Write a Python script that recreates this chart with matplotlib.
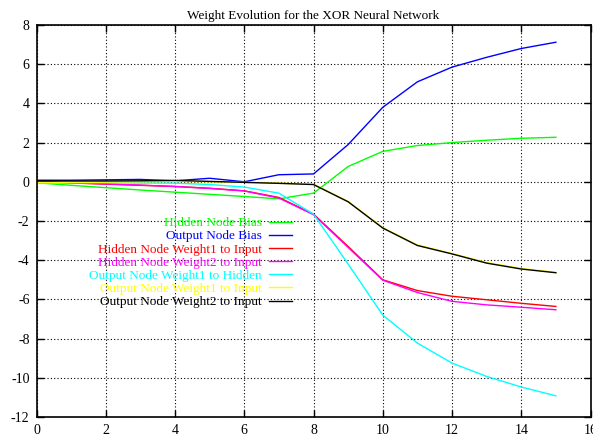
"""Weight evolution of the XOR network, one line per weight."""

import matplotlib
matplotlib.use('Agg')
import matplotlib.pyplot as plt

plt.rcParams['font.family'] = 'Liberation Serif'
plt.rcParams['axes.unicode_minus'] = False

epochs = list(range(16))

hidden_bias = [-0.05, -0.18, -0.3, -0.42, -0.53, -0.64, -0.75, -0.87, -0.58,
               0.78, 1.55, 1.85, 2.0, 2.12, 2.22, 2.27]
output_bias = [0.08, 0.08, 0.1, 0.12, 0.05, 0.18, 0.0, 0.36, 0.4,
               1.9, 3.8, 5.1, 5.85, 6.35, 6.8, 7.12]
hidden_w1 = [0.0, -0.06, -0.12, -0.18, -0.24, -0.33, -0.46, -0.8, -1.65,
             -3.3, -5.0, -5.55, -5.84, -6.02, -6.2, -6.36]
hidden_w2 = [0.02, -0.05, -0.11, -0.17, -0.24, -0.34, -0.47, -0.83, -1.68,
             -3.35, -5.02, -5.65, -6.1, -6.28, -6.4, -6.53]
output_w1_hidden = [-0.05, -0.04, -0.05, -0.06, -0.07, -0.14, -0.27, -0.58, -1.65,
                    -4.2, -6.8, -8.23, -9.25, -9.93, -10.47, -10.92]
output_w1_input = [-0.05, -0.04, -0.02, 0.0, 0.02, 0.0, -0.03, -0.07, -0.12,
                   -1.0, -2.34, -3.22, -3.66, -4.12, -4.42, -4.62]
output_w2_input = [0.05, 0.04, 0.04, 0.05, 0.07, 0.02, -0.03, -0.08, -0.14,
                   -1.02, -2.36, -3.25, -3.68, -4.15, -4.45, -4.64]

series = [
    ('Hidden Node Bias', hidden_bias, '#00ff00'),
    ('Output Node Bias', output_bias, '#0000ff'),
    ('Hidden Node Weight1 to Input', hidden_w1, '#ff0000'),
    ('Hidden Node Weight2 to Input', hidden_w2, '#ff00ff'),
    ('Output Node Weight1 to Hidden', output_w1_hidden, '#00ffff'),
    ('Output Node Weight1 to Input', output_w1_input, '#ffff00'),
    ('Output Node Weight2 to Input', output_w2_input, '#000000'),
]

fig = plt.figure(figsize=(5.93, 4.36), dpi=100)
ax = fig.add_axes([0.0616, 0.0436, 0.9342, 0.8991])

for label, values, color in series:
    ax.plot(epochs, values, color=color, lw=1.0, label=label)

ax.set_xlim(0, 16)
ax.set_ylim(-12, 8)
ax.set_xticks(range(0, 17, 2))
ax.set_yticks(range(-12, 9, 2))
ax.grid(True, color='black', linestyle=(0, (1, 2)), linewidth=0.8)
ax.tick_params(direction='in', top=True, right=True, length=5, width=1,
               labelsize=10, pad=5)
for spine in ax.spines.values():
    spine.set_linewidth(1.2)
ax.set_title('Weight Evolution for the XOR Neural Network', fontsize=9.5, pad=4)

leg = ax.legend(loc='upper right', bbox_to_anchor=(0.462, 0.51), frameon=False,
                markerfirst=False, labelcolor='linecolor', fontsize=9.5,
                borderpad=0, borderaxespad=0, handlelength=1.75,
                handletextpad=0.55, labelspacing=0.07)

fig.savefig('out.png', dpi=100)
